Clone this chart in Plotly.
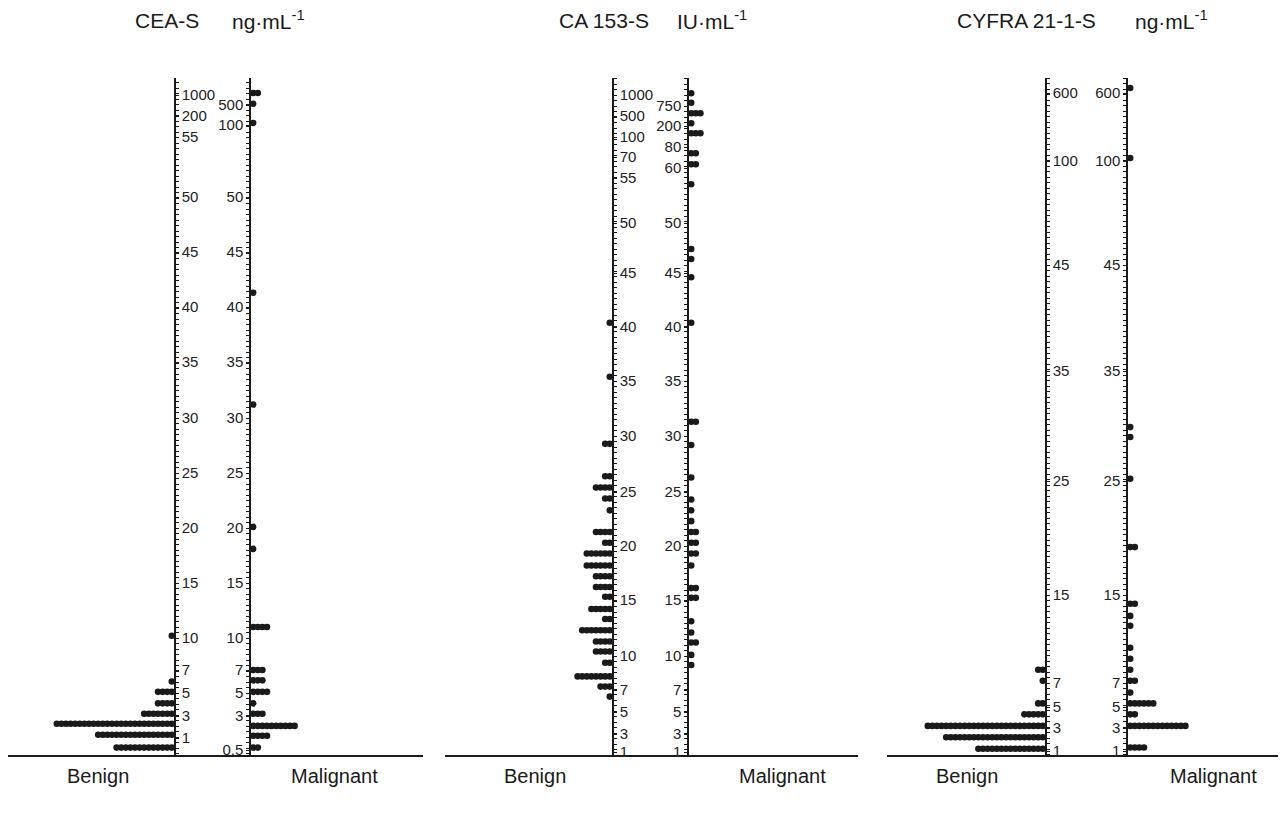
import numpy as np
import plotly.graph_objects as go

# ---------------- data (row value, number of patients in the row) ----------------
CEA_BENIGN_VALUES = [10.2, 6.0, 5.1, 4.1, 3.2, 2.3, 1.3, 0.6]
CEA_BENIGN_COUNTS = [1, 1, 4, 4, 7, 26, 17, 13]
CEA_MALIGNANT_VALUES = [1100, 560, 122, 41.3, 31.2, 20.1, 18.1, 11.0, 7.0, 6.1, 5.1, 4.1, 3.2, 2.1, 1.2, 0.6]
CEA_MALIGNANT_COUNTS = [2, 1, 1, 1, 1, 1, 1, 4, 3, 3, 4, 1, 3, 10, 4, 2]

CA_BENIGN_VALUES = [40.4, 35.4, 29.3, 26.4, 25.4, 24.4, 23.3, 21.3, 20.3, 19.3, 18.2, 17.2,
                    16.2, 15.3, 14.2, 13.3, 12.3, 11.3, 10.4, 9.4, 8.2, 7.3, 6.4]
CA_BENIGN_COUNTS = [1, 1, 2, 2, 4, 2, 1, 4, 2, 6, 6, 4, 4, 2, 5, 2, 7, 4, 4, 2, 8, 3, 1]
CA_MALIGNANT_VALUES = [1040, 825, 568, 281, 134, 73.7, 63.4, 54.3, 47.4, 46.4, 44.6, 40.4, 31.3,
                       29.2, 26.3, 24.3, 23.3, 22.3, 21.3, 20.3, 19.3, 18.2, 16.1, 15.2, 13.1,
                       12.1, 11.2, 10.1, 9.2]
CA_MALIGNANT_COUNTS = [1, 1, 3, 1, 3, 2, 2, 1, 1, 1, 1, 1, 2, 1, 1, 1, 1, 1, 2, 2, 2, 1, 2, 2, 1,
                       1, 2, 1, 1]

CYFRA_BENIGN_VALUES = [8.2, 7.2, 5.3, 4.3, 3.2, 2.2, 1.2]
CYFRA_BENIGN_COUNTS = [2, 1, 2, 5, 26, 22, 15]
CYFRA_MALIGNANT_VALUES = [637, 122, 29.9, 29.0, 25.2, 19.2, 14.2, 13.1, 12.2, 10.2, 9.2, 8.2,
                          7.2, 6.2, 5.3, 4.3, 3.2, 1.3]
CYFRA_MALIGNANT_COUNTS = [1, 1, 1, 1, 1, 2, 2, 1, 1, 1, 1, 1, 2, 1, 6, 2, 13, 4]

# ---------------- tick labels ----------------
CEA_BENIGN_TICKS = [1000, 200, 55, 50, 45, 40, 35, 30, 25, 20, 15, 10, 7, 5, 3, 1]
CEA_MALIGNANT_TICKS = [500, 100, 50, 45, 40, 35, 30, 25, 20, 15, 10, 7, 5, 3, 0.5]
CA_BENIGN_TICKS = [1000, 500, 100, 70, 55, 50, 45, 40, 35, 30, 25, 20, 15, 10, 7, 5, 3, 1]
CA_MALIGNANT_TICKS = [750, 200, 80, 60, 50, 45, 40, 35, 30, 25, 20, 15, 10, 7, 5, 3, 1]
CYFRA_BENIGN_TICKS = [600, 100, 45, 35, 25, 15, 7, 5, 3, 1]
CYFRA_MALIGNANT_TICKS = [600, 100, 45, 35, 25, 15, 7, 5, 3, 1]

# ---------------- broken-axis scales (value -> axis height) ----------------
CEA_SCALE_VALUES = [0.5, 1, 3, 5, 7, 10, 15, 20, 25, 30, 35, 40, 45, 50, 55, 100, 200, 500, 1000]
CEA_SCALE_HEIGHTS = [5, 17, 39, 62, 85, 117, 172, 227, 282, 337, 393, 448, 503, 558, 618, 630, 639, 650, 660]
CA_SCALE_VALUES = [1, 3, 5, 7, 10, 15, 20, 25, 30, 35, 40, 45, 50, 55, 60, 70, 80, 100, 200, 500, 750, 1000]
CA_SCALE_HEIGHTS = [3, 21, 43, 65, 99, 155, 209, 263, 319, 374, 428, 482, 532, 577, 587, 598, 608, 618, 629, 639, 649, 660]
CYFRA_SCALE_VALUES = [1, 3, 5, 7, 15, 25, 35, 45, 100, 600]
CYFRA_SCALE_HEIGHTS = [4, 27, 48, 72, 160, 274, 384, 490, 594, 662]

# ---------------- figure geometry / style ----------------
PAGE_W, PAGE_H = 1286, 821
BODY_MARGIN = 8                       # default page margin around the plot div
W, H = PAGE_W - BODY_MARGIN, PAGE_H - BODY_MARGIN
AX_TOP, AX_BOTTOM = 78, 755
Y_RANGE = [0, AX_BOTTOM - AX_TOP]
DOT_STEP = 4.6
DOT_OFFSET = 3.2
INK = "#1a1a1a"
FONT = "Liberation Sans, Arial, sans-serif"


def px(xpix):
    return (xpix - BODY_MARGIN) / W


def py(ypix):
    return 1 - (ypix - BODY_MARGIN) / H


panels = [
    dict(title="CEA-S", unit="ng·mL<sup>-1</sup>", left=7, right=423, ben=175, mal=250,
         title_x=133, unit_x=230, benign_x=98, malignant_x=334,
         sv=CEA_SCALE_VALUES, sh=CEA_SCALE_HEIGHTS,
         bv=CEA_BENIGN_VALUES, bc=CEA_BENIGN_COUNTS, mv=CEA_MALIGNANT_VALUES, mc=CEA_MALIGNANT_COUNTS,
         bt=CEA_BENIGN_TICKS, mt=CEA_MALIGNANT_TICKS),
    dict(title="CA 153-S", unit="IU·mL<sup>-1</sup>", left=445, right=858, ben=613, mal=688,
         title_x=557, unit_x=675, benign_x=535, malignant_x=782,
         sv=CA_SCALE_VALUES, sh=CA_SCALE_HEIGHTS,
         bv=CA_BENIGN_VALUES, bc=CA_BENIGN_COUNTS, mv=CA_MALIGNANT_VALUES, mc=CA_MALIGNANT_COUNTS,
         bt=CA_BENIGN_TICKS, mt=CA_MALIGNANT_TICKS),
    dict(title="CYFRA 21-1-S", unit="ng·mL<sup>-1</sup>", left=887, right=1286, ben=1046, mal=1127,
         title_x=955, unit_x=1133, benign_x=967, malignant_x=1213,
         sv=CYFRA_SCALE_VALUES, sh=CYFRA_SCALE_HEIGHTS,
         bv=CYFRA_BENIGN_VALUES, bc=CYFRA_BENIGN_COUNTS, mv=CYFRA_MALIGNANT_VALUES, mc=CYFRA_MALIGNANT_COUNTS,
         bt=CYFRA_BENIGN_TICKS, mt=CYFRA_MALIGNANT_TICKS),
]


def make_scale(xs, ys):
    xs = np.asarray(xs, float)
    ys = np.asarray(ys, float)

    def f(v):
        v = np.asarray(v, float)
        out = np.interp(v, xs, ys)
        lo = v < xs[0]
        hi = v > xs[-1]
        out = np.where(lo, ys[0] + (v - xs[0]) * (ys[1] - ys[0]) / (xs[1] - xs[0]), out)
        out = np.where(hi, ys[-1] + (v - xs[-1]) * (ys[-1] - ys[-2]) / (xs[-1] - xs[-2]), out)
        return out
    return f


def fmt(v):
    return ("%g" % v)


fig = go.Figure()
layout = dict(template="none", width=W, height=H,
              margin=dict(l=0, r=0, t=0, b=0, pad=0, autoexpand=False),
              paper_bgcolor="white", plot_bgcolor="rgba(0,0,0,0)", showlegend=False,
              font=dict(family=FONT, color=INK))
annotations = []
ydom = [max(0.0, py(AX_BOTTOM)), py(AX_TOP)]

for i, p in enumerate(panels):
    k = i + 1
    xa = "x" if k == 1 else "x%d" % k
    yb_n = 2 * k - 1
    ym_n = 2 * k
    yb = "y" if yb_n == 1 else "y%d" % yb_n
    ym = "y%d" % ym_n
    sc = make_scale(p["sv"], p["sh"])
    gap = p["mal"] - p["ben"]

    # benign dots: stacked leftwards from the benign axis
    bx, by = [], []
    for v, c in zip(p["bv"], p["bc"]):
        for j in range(c):
            bx.append(-(DOT_OFFSET + j * DOT_STEP))
            by.append(float(sc(v)))
    # malignant dots: stacked rightwards from the malignant axis
    mx, my = [], []
    for v, c in zip(p["mv"], p["mc"]):
        for j in range(c):
            mx.append(gap + DOT_OFFSET + j * DOT_STEP)
            my.append(float(sc(v)))
    mk = dict(size=6.6, color=INK, line=dict(width=0))
    fig.add_trace(go.Scatter(x=bx, y=by, mode="markers", marker=mk, xaxis=xa, yaxis=yb,
                             hoverinfo="skip", cliponaxis=False))
    fig.add_trace(go.Scatter(x=mx, y=my, mode="markers", marker=mk, xaxis=xa, yaxis=ym,
                             hoverinfo="skip", cliponaxis=False))

    left = max(p["left"], BODY_MARGIN)
    right = min(p["right"], PAGE_W)
    xr = [left - p["ben"], right - p["ben"]]
    layout["xaxis" if k == 1 else "xaxis%d" % k] = dict(
        domain=[px(left), min(1.0, px(right))], range=xr, anchor=yb, automargin=False,
        showline=True, linecolor=INK, linewidth=1.5, ticks="", showticklabels=False,
        showgrid=False, zeroline=False, fixedrange=True)

    minor = dict(ticks="outside", ticklen=3, tickwidth=1, tickcolor=INK,
                 tick0=float(sc(10)), dtick=5.5, showgrid=False)
    common = dict(range=Y_RANGE, showline=True, linecolor=INK, linewidth=1.5,
                  ticks="outside", ticklen=3, tickwidth=1, tickcolor=INK,
                  showgrid=False, zeroline=False, fixedrange=True, minor=minor,
                  tickfont=dict(family=FONT, size=15, color="#222"), anchor="free",
                  tickmode="array", automargin=False)
    layout["yaxis" if yb_n == 1 else "yaxis%d" % yb_n] = dict(
        domain=ydom, position=px(p["ben"]), side="right",
        tickvals=[float(sc(t)) for t in p["bt"]], ticktext=[fmt(t) for t in p["bt"]], **common)
    layout["yaxis%d" % ym_n] = dict(
        overlaying=yb, position=px(p["mal"]), side="left",
        tickvals=[float(sc(t)) for t in p["mt"]], ticktext=[fmt(t) for t in p["mt"]], **common)

    annotations.append(dict(x=px(p["title_x"]), y=py(20), xref="paper", yref="paper",
                            xanchor="left", yanchor="middle", text=p["title"], showarrow=False,
                            font=dict(family=FONT, size=21, color=INK)))
    annotations.append(dict(x=px(p["unit_x"]), y=py(20), xref="paper", yref="paper",
                            xanchor="left", yanchor="middle", text=p["unit"], showarrow=False,
                            font=dict(family=FONT, size=21, color=INK)))
    annotations.append(dict(x=px(p["benign_x"]), y=py(776), xref="paper", yref="paper",
                            xanchor="center", yanchor="middle", text="Benign", showarrow=False,
                            font=dict(family=FONT, size=20, color=INK)))
    annotations.append(dict(x=px(p["malignant_x"]), y=py(776), xref="paper", yref="paper",
                            xanchor="center", yanchor="middle", text="Malignant", showarrow=False,
                            font=dict(family=FONT, size=20, color=INK)))

layout["annotations"] = annotations
fig.update_layout(**layout)
fig.write_html("out.html")
